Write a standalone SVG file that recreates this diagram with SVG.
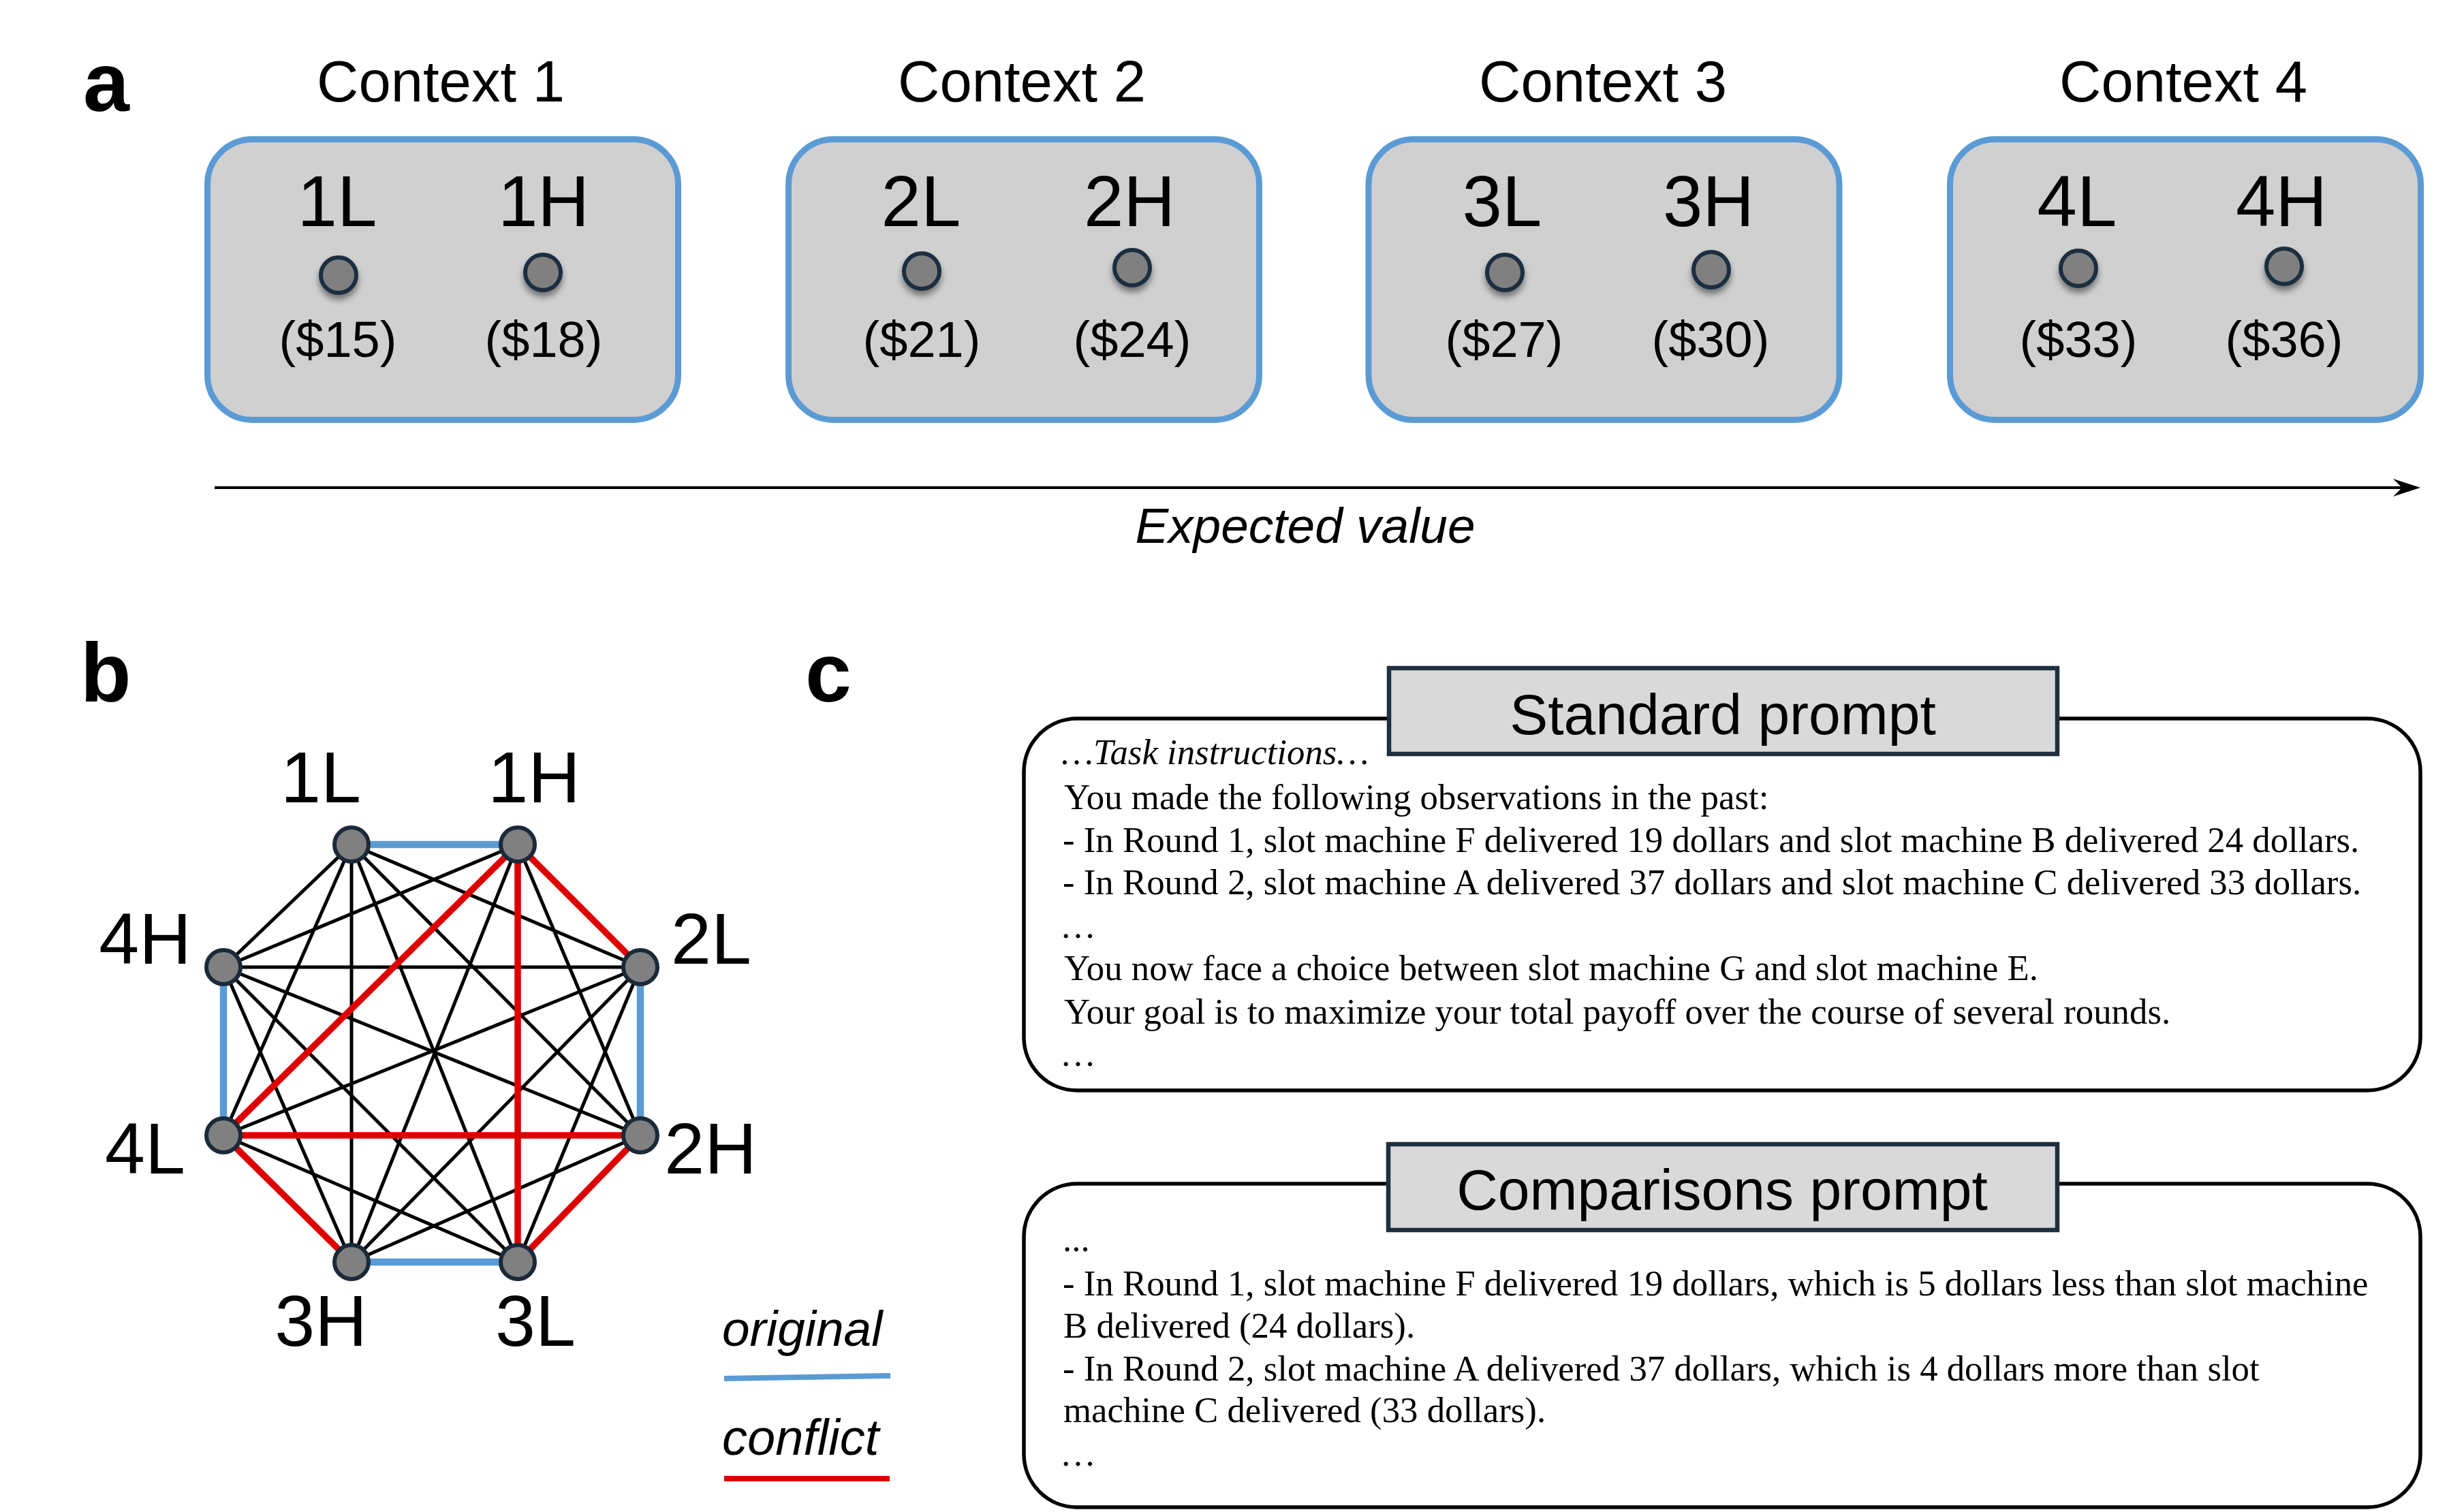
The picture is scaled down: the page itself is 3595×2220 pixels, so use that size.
<svg xmlns="http://www.w3.org/2000/svg" width="3595" height="2220" viewBox="0 0 3595 2220">
<defs>
<style>
.sans{font-family:"Liberation Sans",Arial,sans-serif;fill:#000}
.serif{font-family:"Liberation Serif","Times New Roman",serif;fill:#000;font-size:52.8px}
.panel{font-weight:bold;font-size:122px}
.ctx{font-size:85px;text-anchor:middle}
.lab{font-size:105px;text-anchor:middle}
.val{font-size:74px;text-anchor:middle}
.nl{font-size:106px;text-anchor:middle}
.box{fill:#d0d0d0;stroke:#5b9bd5;stroke-width:9}
.dot{fill:#808080;stroke:#1a2e40;stroke-width:6}
.node{fill:#808080;stroke:#1b2a38;stroke-width:6}
.blk{stroke:#000;stroke-width:5;fill:none}
.red{stroke:#dd0000;stroke-width:9.5;fill:none}
.blu{stroke:#5b9bd5;stroke-width:10.5;fill:none}
.outer{fill:#fff;stroke:#000;stroke-width:5.5}
.title{fill:#d9d9d9;stroke:#1f2f3e;stroke-width:6.5}
.ttext{font-size:84px;text-anchor:middle}
</style>
<filter id="sh" x="-50%" y="-50%" width="200%" height="200%">
<feDropShadow dx="0" dy="7" stdDeviation="5" flood-color="#000" flood-opacity="0.45"/>
</filter>
</defs>
<rect width="3595" height="2220" fill="#fff"/>

<!-- Panel a -->
<text class="sans panel" x="122" y="163">a</text>
<g id="context1">
<text class="sans ctx" x="647" y="149">Context 1</text>
<rect class="box" x="304.5" y="204.5" width="691" height="412" rx="66"/>
<text class="sans lab" x="495" y="332">1L</text>
<text class="sans lab" x="798" y="332">1H</text>
<circle class="dot" cx="497" cy="404" r="26" filter="url(#sh)"/>
<circle class="dot" cx="797" cy="400" r="26" filter="url(#sh)"/>
<text class="sans val" x="496" y="524">($15)</text>
<text class="sans val" x="798" y="524">($18)</text>
</g>
<g id="context2">
<text class="sans ctx" x="1500" y="149">Context 2</text>
<rect class="box" x="1157.5" y="204.5" width="691" height="412" rx="66"/>
<text class="sans lab" x="1352" y="332">2L</text>
<text class="sans lab" x="1658" y="332">2H</text>
<circle class="dot" cx="1353" cy="398" r="26" filter="url(#sh)"/>
<circle class="dot" cx="1662" cy="393" r="26" filter="url(#sh)"/>
<text class="sans val" x="1353" y="524">($21)</text>
<text class="sans val" x="1662" y="524">($24)</text>
</g>
<g id="context3">
<text class="sans ctx" x="2353" y="149">Context 3</text>
<rect class="box" x="2009" y="204.5" width="691" height="412" rx="66"/>
<text class="sans lab" x="2205" y="332">3L</text>
<text class="sans lab" x="2508" y="332">3H</text>
<circle class="dot" cx="2209" cy="400" r="26" filter="url(#sh)"/>
<circle class="dot" cx="2512" cy="396" r="26" filter="url(#sh)"/>
<text class="sans val" x="2208" y="524">($27)</text>
<text class="sans val" x="2511" y="524">($30)</text>
</g>
<g id="context4">
<text class="sans ctx" x="3205" y="149">Context 4</text>
<rect class="box" x="2862.5" y="204.5" width="691" height="412" rx="66"/>
<text class="sans lab" x="3049" y="332">4L</text>
<text class="sans lab" x="3349" y="332">4H</text>
<circle class="dot" cx="3051" cy="394" r="26" filter="url(#sh)"/>
<circle class="dot" cx="3353" cy="391" r="26" filter="url(#sh)"/>
<text class="sans val" x="3051" y="524">($33)</text>
<text class="sans val" x="3353" y="524">($36)</text>
</g>
<g id="axis">
<line x1="315" y1="716" x2="3530" y2="716" stroke="#000" stroke-width="4"/>
<polygon points="3553,716 3513,703 3526,716 3513,729" fill="#000"/>
<text class="sans" x="1916" y="797" font-size="73" font-style="italic" text-anchor="middle">Expected value</text>
</g>

<!-- Panel b -->
<text class="sans panel" x="118" y="1030">b</text>
<g id="connectors">
<g class="blk">
<line x1="516" y1="1240" x2="940" y2="1420"/>
<line x1="516" y1="1240" x2="940" y2="1667"/>
<line x1="516" y1="1240" x2="760" y2="1853"/>
<line x1="516" y1="1240" x2="516" y2="1853"/>
<line x1="516" y1="1240" x2="328" y2="1667"/>
<line x1="516" y1="1240" x2="328" y2="1420"/>
<line x1="760" y1="1240" x2="940" y2="1667"/>
<line x1="760" y1="1240" x2="516" y2="1853"/>
<line x1="760" y1="1240" x2="328" y2="1420"/>
<line x1="940" y1="1420" x2="760" y2="1853"/>
<line x1="940" y1="1420" x2="516" y2="1853"/>
<line x1="940" y1="1420" x2="328" y2="1667"/>
<line x1="940" y1="1420" x2="328" y2="1420"/>
<line x1="940" y1="1667" x2="516" y2="1853"/>
<line x1="940" y1="1667" x2="328" y2="1420"/>
<line x1="760" y1="1853" x2="328" y2="1667"/>
<line x1="760" y1="1853" x2="328" y2="1420"/>
<line x1="516" y1="1853" x2="328" y2="1420"/>
</g>
<g class="blu">
<line x1="516" y1="1240" x2="760" y2="1240"/>
<line x1="940" y1="1420" x2="940" y2="1667"/>
<line x1="516" y1="1853" x2="760" y2="1853"/>
<line x1="328" y1="1420" x2="328" y2="1667"/>
</g>
<g class="red">
<line x1="760" y1="1240" x2="940" y2="1420"/>
<line x1="760" y1="1240" x2="760" y2="1853"/>
<line x1="760" y1="1240" x2="328" y2="1667"/>
<line x1="940" y1="1667" x2="760" y2="1853"/>
<line x1="940" y1="1667" x2="328" y2="1667"/>
<line x1="328" y1="1667" x2="516" y2="1853"/>
</g>
</g>
<g id="node-1L"><circle class="node" cx="516" cy="1240" r="25"/><text class="sans nl" x="471" y="1178">1L</text></g>
<g id="node-1H"><circle class="node" cx="760" cy="1240" r="25"/><text class="sans nl" x="784" y="1178">1H</text></g>
<g id="node-2L"><circle class="node" cx="940" cy="1420" r="25"/><text class="sans nl" x="1044" y="1415">2L</text></g>
<g id="node-2H"><circle class="node" cx="940" cy="1667" r="25"/><text class="sans nl" x="1043" y="1723">2H</text></g>
<g id="node-3L"><circle class="node" cx="760" cy="1853" r="25"/><text class="sans nl" x="786" y="1976">3L</text></g>
<g id="node-3H"><circle class="node" cx="516" cy="1853" r="25"/><text class="sans nl" x="471" y="1976">3H</text></g>
<g id="node-4L"><circle class="node" cx="328" cy="1667" r="25"/><text class="sans nl" x="213" y="1723">4L</text></g>
<g id="node-4H"><circle class="node" cx="328" cy="1420" r="25"/><text class="sans nl" x="213" y="1415">4H</text></g>
<g id="legend">
<text class="sans" x="1060" y="1976" font-size="73" font-style="italic">original</text>
<line x1="1063" y1="2024" x2="1307" y2="2020" stroke="#5b9bd5" stroke-width="8"/>
<text class="sans" x="1060" y="2136" font-size="74" font-style="italic">conflict</text>
<line x1="1063" y1="2171" x2="1306" y2="2171" stroke="#dd0000" stroke-width="8"/>
</g>

<!-- Panel c -->
<text class="sans panel" x="1182" y="1030">c</text>
<g id="standard-prompt">
<rect class="outer" x="1503" y="1055" width="2050" height="546" rx="78"/>
<rect class="title" x="2039" y="981" width="981" height="126"/>
<text class="sans ttext" x="2529" y="1078">Standard prompt</text>
<text class="serif" x="1558" y="1122" font-style="italic">…Task instructions…</text>
<text class="serif" x="1562" y="1188">You made the following observations in the past:</text>
<text class="serif" x="1560" y="1251">- In Round 1, slot machine F delivered 19 dollars and slot machine B delivered 24 dollars.</text>
<text class="serif" x="1560" y="1313">- In Round 2, slot machine A delivered 37 dollars and slot machine C delivered 33 dollars.</text>
<text class="serif" x="1556" y="1377">…</text>
<text class="serif" x="1562" y="1439">You now face a choice between slot machine G and slot machine E.</text>
<text class="serif" x="1562" y="1503">Your goal is to maximize your total payoff over the course of several rounds.</text>
<text class="serif" x="1556" y="1565">…</text>
</g>
<g id="comparisons-prompt">
<rect class="outer" x="1503" y="1738" width="2050" height="475" rx="78"/>
<rect class="title" x="2038" y="1680" width="982" height="126"/>
<text class="sans ttext" x="2528" y="1776">Comparisons prompt</text>
<text class="serif" x="1560" y="1837">...</text>
<text class="serif" x="1560" y="1902">- In Round 1, slot machine F delivered 19 dollars, which is 5 dollars less than slot machine</text>
<text class="serif" x="1561" y="1964">B delivered (24 dollars).</text>
<text class="serif" x="1560" y="2027">- In Round 2, slot machine A delivered 37 dollars, which is 4 dollars more than slot</text>
<text class="serif" x="1561" y="2088">machine C delivered (33 dollars).</text>
<text class="serif" x="1556" y="2152">…</text>
</g>
</svg>
